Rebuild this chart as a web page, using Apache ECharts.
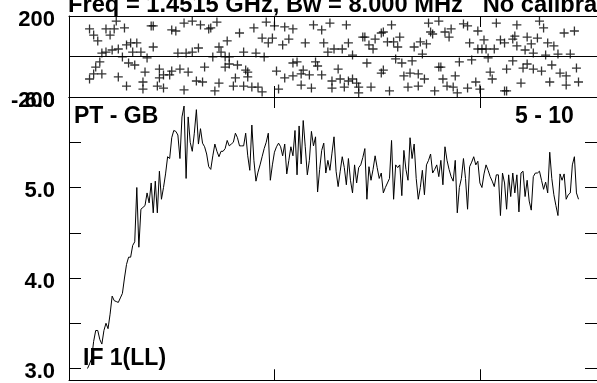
<!DOCTYPE html>
<html><head><meta charset="utf-8">
<script src="https://cdn.jsdelivr.net/npm/echarts@6/dist/echarts.min.js"></script>
<style>html,body{margin:0;padding:0;background:#fff;overflow:hidden}#c{width:597px;height:383px}</style>
</head><body><div id="c"></div>
<script>
const titleText = 'Freq = 1.4515 GHz, Bw = 8.000 MHz   No calibration applied';
const baselineLabel = 'PT - GB';
const timeLabel = '5 - 10';
const ifLabel = 'IF 1(LL)';

const firstChannel = 9;
const amplitude = [
3.00,3.05,3.11,3.30,3.42,3.42,3.32,3.27,3.42,3.50,
3.44,3.60,3.80,3.75,3.74,3.73,3.78,3.83,4.00,4.15,
4.23,4.23,4.36,4.40,5.00,4.34,4.76,4.78,4.80,4.94,
4.83,5.05,4.72,5.07,4.72,5.18,4.87,5.00,5.15,5.34,
5.32,5.55,5.63,5.62,5.58,5.32,5.78,5.90,5.10,5.78,
5.50,5.40,5.60,5.86,5.48,5.65,5.49,5.45,5.37,5.23,
5.20,5.35,5.48,5.40,5.34,5.40,5.40,5.43,5.52,5.46,
5.48,5.50,5.60,5.55,5.46,5.46,5.46,5.60,5.35,5.19,
5.69,5.30,5.07,5.17,5.25,5.34,5.43,5.50,5.60,5.08,
5.25,5.39,5.45,5.49,5.45,5.35,5.48,5.15,5.30,5.45,
5.35,5.63,5.14,5.68,5.26,5.74,5.45,5.14,5.30,5.62,
5.46,5.56,4.95,5.20,5.41,5.49,5.16,5.30,5.19,5.38,
5.56,5.18,5.01,5.18,5.34,5.22,5.03,5.32,5.08,4.94,
5.25,5.05,5.22,5.25,5.33,5.43,4.87,5.23,5.08,5.20,
5.35,5.22,5.10,5.16,4.94,5.00,5.05,5.10,5.52,4.87,
5.25,5.22,5.25,4.91,5.41,5.20,5.08,5.55,5.32,5.48,
5.10,4.87,5.00,5.19,4.92,5.25,5.30,5.37,5.16,5.20,
5.25,5.12,5.30,5.03,5.45,5.30,5.20,5.12,5.07,5.30,
4.72,5.00,5.10,5.32,5.10,4.76,5.23,5.28,5.34,5.25,
5.29,5.05,5.00,5.15,5.25,5.19,5.12,5.07,5.01,5.14,
5.14,4.69,5.16,5.05,4.76,5.14,4.90,5.16,4.94,5.14,
4.73,5.16,5.18,4.90,5.08,4.85,4.75,5.12,5.16,5.16,
5.18,5.08,4.98,5.06,4.94,5.39,5.10,4.92,4.80,4.69,
5.15,5.08,5.15,4.87,4.92,4.94,5.25,5.34,4.94,4.87
];

const phaseChannels = [
10,10,12,12,13,14,15,16,16,18,18,20,21,22,23,24,24,26,27,28,28,29,30,31,32,33,35,36,36,37,38,40,41,41,43,44,44,46,46,49,
50,50,52,53,54,56,56,57,58,60,60,62,63,64,65,66,68,69,70,71,72,73,73,74,76,76,77,78,78,80,81,82,83,85,85,86,87,87,89,90,
91,92,94,94,95,96,97,99,100,101,102,104,105,105,107,109,109,109,
111,113,113,114,115,117,118,119,120,121,123,123,124,126,127,128,128,129,131,132,133,134,135,136,136,138,138,140,141,141,
143,144,145,146,147,148,149,152,152,153,153,155,156,157,158,159,160,161,162,163,165,166,167,168,170,170,171,172,173,174,
175,176,177,178,180,180,181,182,183,184,185,186,187,188,189,190,192,194,194,195,196,198,199,199,200,201,202,203,204,205,
206,207,208,210,212,212,213,213,216,216,217,218,218,220,221,222,223,223,225,226,226,228,229,230,231,232,233,234,235,236,
238,239,241,242,242,244,246,247,248
];
const phaseValues = [
136,-111,106,-86,-52,77,-27,17,-86,136,22,106,32,136,175,37,-101,-2,141,57,-146,-32,67,22,-42,67,22,-126,-161,-77,-7,151,151,47,-146,-62,-106,-91,-156,-91,
131,-72,126,17,-62,165,-165,17,-77,175,22,-121,42,156,-126,-52,136,141,-2,-170,170,47,-131,22,-52,-2,77,-2,-37,-146,-106,-42,116,22,-146,-67,-77,-101,-151,141,
17,-151,91,-175,-2,170,67,91,151,-72,-161,57,146,-106,86,136,-32,-96,
-27,-86,-141,-67,67,-91,-156,156,-27,-47,131,-91,67,22,165,-121,-156,37,-62,-111,37,-151,156,67,-121,7,-111,-131,-151,-180,
96,96,-32,57,-151,37,86,116,-82,121,-67,72,-170,156,72,-12,47,96,-32,-96,-151,-82,-22,47,-146,-86,72,12,-111,62,
165,121,111,-170,175,-52,-52,-111,121,-146,96,136,-151,-96,-180,-27,161,151,-156,67,-17,-126,126,37,-161,37,82,37,-7,-77,
-111,37,165,82,67,-170,-170,-62,86,-22,101,156,52,-131,-57,32,96,-37,62,17,-62,91,175,-72,141,7,67,-126,-42,52,
12,-82,116,-96,-141,12,126,-57,-126
];

const channelMin = 0, channelMax = 257, channelStep = 100;
const phaseMin = -200, phaseMax = 200, phaseStep = 200;
const ampMin = 2.87, ampMax = 6.0;
const ampTicks = [3, 3.5, 4, 4.5, 5, 5.5, 6];
const ampLabels = [3, 4, 5, 6];

const ampData = amplitude.map((v, i) => [firstChannel + i, v]);
const phaseData = phaseValues.map((v, i) => [phaseChannels[i], v]);

const FONT = "'Liberation Sans', Arial, Helvetica, sans-serif";
const black = '#000';
const axLine = { show: true, onZero: false, lineStyle: { color: black, width: 1 } };
const tick = len => ({ show: true, inside: true, length: len, lineStyle: { color: black, width: 1 } });
const richLabel = { t: { color: black, fontFamily: FONT, fontWeight: 'bold', fontSize: 22, padding: [7, 0, 0, 0] } };
const labelStyle = { color: black, fontFamily: FONT, fontWeight: 'bold', fontSize: 22, margin: 14, rich: richLabel };

function xAx(grid, pos) {
  return { type: 'value', gridIndex: grid, position: pos, min: channelMin, max: channelMax, interval: channelStep,
    axisLine: axLine, axisTick: tick(11), axisLabel: { show: false }, splitLine: { show: false } };
}

const chart = echarts.init(document.getElementById('c'), null, { renderer: 'canvas' });
chart.setOption({
  animation: false,
  backgroundColor: '#fff',
  title: { text: titleText, left: 63, top: -12,
    textStyle: { color: black, fontFamily: FONT, fontWeight: 'bold', fontSize: 23.7 } },
  grid: [
    { left: 69, top: 16, width: 531, height: 81, containLabel: false },
    { left: 69, top: 97, width: 531, height: 288, containLabel: false }
  ],
  xAxis: [ xAx(0, 'bottom'), xAx(0, 'top'), xAx(1, 'bottom'), xAx(1, 'top') ],
  yAxis: [
    { type: 'value', gridIndex: 0, position: 'left', min: phaseMin, max: phaseMax, interval: phaseStep,
      axisLine: axLine, axisTick: tick(11), splitLine: { show: false },
      axisLabel: Object.assign({}, labelStyle, { formatter: v => (v === 0 ? '' : '{t|' + v + '}') }) },
    { type: 'value', gridIndex: 0, position: 'right', min: phaseMin, max: phaseMax, interval: phaseStep,
      axisLine: axLine, axisTick: tick(11), splitLine: { show: false }, axisLabel: { show: false } },
    { type: 'value', gridIndex: 1, position: 'left', min: ampMin, max: ampMax,
      axisLine: axLine, axisTick: Object.assign(tick(12), { customValues: ampTicks }), splitLine: { show: false },
      axisLabel: Object.assign({}, labelStyle, { customValues: ampLabels, formatter: v => '{t|' + Number(v).toFixed(1) + '}' }) },
    { type: 'value', gridIndex: 1, position: 'right', min: ampMin, max: ampMax,
      axisLine: axLine, axisTick: Object.assign(tick(12), { customValues: ampTicks }), splitLine: { show: false },
      axisLabel: { show: false } }
  ],
  series: [
    { type: 'scatter', xAxisIndex: 0, yAxisIndex: 0, data: phaseData,
      symbol: 'path://M0,4.5 L9,4.5 M4.5,0 L4.5,9', symbolSize: 9,
      itemStyle: { color: 'rgba(0,0,0,0)', borderColor: black, borderWidth: 1.3 },
      markLine: { silent: true, symbol: 'none', label: { show: false },
        lineStyle: { color: black, width: 1, type: 'solid' }, data: [{ yAxis: 0 }] } },
    { type: 'line', xAxisIndex: 2, yAxisIndex: 2, data: ampData, showSymbol: false, symbol: 'none',
      lineStyle: { color: black, width: 1 }, clip: true }
  ],
  graphic: [
    { type: 'text', left: 74, top: 105, style: { text: baselineLabel, fill: black, font: "bold 23px 'Liberation Sans', Arial, sans-serif" } },
    { type: 'text', left: 515, top: 105, style: { text: timeLabel, fill: black, font: "bold 23px 'Liberation Sans', Arial, sans-serif" } },
    { type: 'text', left: 83, top: 347, style: { text: ifLabel, fill: black, font: "bold 23px 'Liberation Sans', Arial, sans-serif" } }
  ]
});
</script></body></html>
